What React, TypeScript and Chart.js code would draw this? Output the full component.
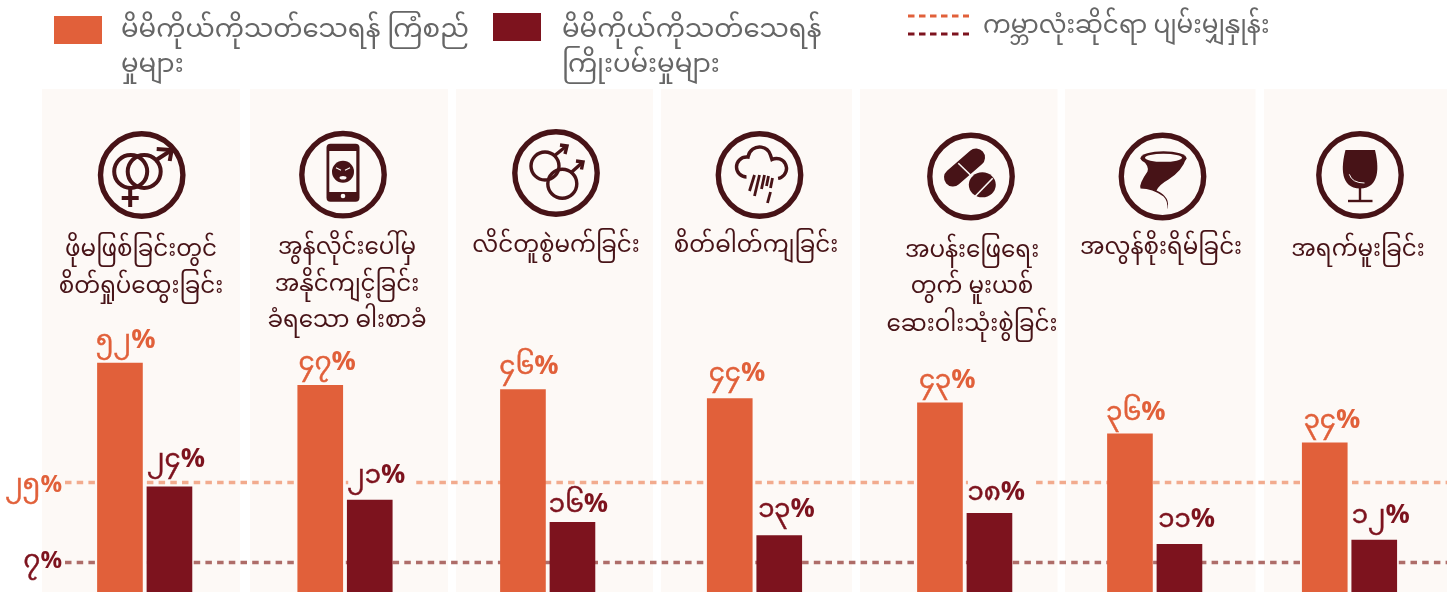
import React, { useEffect, useRef } from "react";
import { Chart, registerables, CategoryScale } from "chart.js";

// ---- data ----
const categories = [
  ["ဖိုမဖြစ်ခြင်းတွင်", "စိတ်ရှုပ်ထွေးခြင်း"],
  ["အွန်လိုင်းပေါ်မှ", "အနိုင်ကျင့်ခြင်း", "ခံရသော ဓါးစာခံ"],
  ["လိင်တူစွဲမက်ခြင်း"],
  ["စိတ်ဓါတ်ကျခြင်း"],
  ["အပန်းဖြေရေး", "တွက် မူးယစ်", "ဆေးဝါးသုံးစွဲခြင်း"],
  ["အလွန်စိုးရိမ်ခြင်း"],
  ["အရက်မူးခြင်း"],
];
const ideationValues = [52, 47, 46, 44, 43, 36, 34];
const attemptValues = [24, 21, 16, 13, 18, 11, 12];
const ideationAverage = 25;
const attemptAverage = 7;
const ideationLegend = ["မိမိကိုယ်ကိုသတ်သေရန် ကြံစည်", "မှုများ"];
const attemptLegend = ["မိမိကိုယ်ကိုသတ်သေရန်", "ကြိုးပမ်းမှုများ"];
const averageLegend = "ကမ္ဘာလုံးဆိုင်ရာ ပျမ်းမျှနှုန်း";

// ---- layout and style ----
const W = 1447;
const H = 593;
const ORANGE = "#E1603A";
const DARK = "#7D131E";
const ICON = "#471317";
const PANEL = "#FDF9F6";
const LEGEND_TEXT = "#666666";
const ORANGE_LINE = "#F2AB8E";
const DARK_LINE = "#AE6D69";
const MY_FONT = '"Noto Sans Myanmar","Noto Serif Myanmar","Padauk","Myanmar Text","Noto Sans",sans-serif';
const PCT_FONT = '"Open Sans",sans-serif';
const panelEdges = [[42, 240], [250, 448], [456, 653], [661, 852], [860, 1057.5], [1065, 1255.5], [1264, 1447]];
const panelCenters = [144.7, 345, 547.7, 754.5, 964.7, 1154.7, 1349.5];
const iconCenters = [[141.7, 175], [343, 174.7], [556, 173], [759.5, 175], [971, 176.5], [1162.5, 176.5], [1360, 175]];
const titleCenters = [141, 347, 556, 756, 972, 1161, 1358];
const titleBaselines = [[256, 293], [254, 291, 327], [252], [252], [257, 293, 331], [254], [256]];
const ideationLift = [15, 15, 16, 18, 15, 14, 15];
const attemptLift = [20, 17, 10, 19, 13, 17, 17];

const toBurmese = (v: number) => String(v).replace(/\d/g, (d) => "၀၁၂၃၄၅၆၇၈၉"[Number(d)]);

class PanelScale extends (CategoryScale as any) {
  static id = "panel";
  static defaults = (CategoryScale as any).defaults;
  getPixelForValue(value: any, index?: number) {
    const i = typeof value === "number" ? value : index ?? 0;
    return panelCenters[i];
  }
}
Chart.register(...registerables, PanelScale as any);

function line(ctx: any, pts: number[][]) {
  ctx.beginPath();
  pts.forEach(([x, y], i) => (i ? ctx.lineTo(x, y) : ctx.moveTo(x, y)));
  ctx.stroke();
}
function ring(ctx: any, x: number, y: number, r: number) {
  ctx.beginPath();
  ctx.arc(x, y, r, 0, Math.PI * 2);
  ctx.stroke();
}
function disc(ctx: any, x: number, y: number, rx: number, ry = rx) {
  ctx.beginPath();
  ctx.ellipse(x, y, rx, ry, 0, 0, Math.PI * 2);
  ctx.fill();
}

const iconPainters: ((c: any) => void)[] = [
  (c) => {
    c.lineWidth = 4;
    ring(c, -11, -3.5, 16.5);
    ring(c, 2.5, -3.5, 16.5);
    line(c, [[-11.5, 13], [-11.5, 32]]);
    line(c, [[-20, 23], [-3, 23]]);
    line(c, [[13, -14], [30, -25]]);
    line(c, [[15, -26], [30, -25], [28, -14]]);
  },
  (c) => {
    c.beginPath();
    c.roundRect(-16.5, -31, 33, 58, 4);
    c.fill();
    c.fillStyle = PANEL;
    c.fillRect(-13.7, -23.7, 27, 41);
    disc(c, 0, 21.3, 2.3);
    c.fillStyle = ICON;
    disc(c, 0, -3, 11);
    c.strokeStyle = PANEL;
    c.fillStyle = PANEL;
    c.lineWidth = 1.2;
    line(c, [[-7, -7], [-2, -4.5]]);
    line(c, [[7, -7], [2, -4.5]]);
    disc(c, 0, 3, 3.5, 1.8);
  },
  (c) => {
    c.lineWidth = 3.4;
    ring(c, -11, -7, 14);
    ring(c, 6.3, 10.7, 14.5);
    line(c, [[-1, -17.7], [10.5, -27]]);
    line(c, [[4, -28], [11, -27], [9, -19]]);
    line(c, [[15.7, -1], [27, -11]]);
    line(c, [[20, -12], [27, -11], [25.5, -3.5]]);
  },
  (c) => {
    c.lineWidth = 3.4;
    c.beginPath();
    c.arc(-13, -8, 10, Math.PI * 0.5, Math.PI * 1.55);
    c.arc(0, -16.5, 11.5, Math.PI * 1.05, Math.PI * 1.9);
    c.arc(17, -6.5, 10, Math.PI * 1.35, Math.PI * 0.45);
    c.stroke();
    c.lineWidth = 2.8;
    line(c, [[-5, 0], [-10, 16]]);
    line(c, [[0, 0], [-5, 21]]);
    line(c, [[5, 0], [2, 14]]);
    line(c, [[9, 1], [7, 11]]);
    line(c, [[13, 3], [11, 13]]);
    line(c, [[11, 17], [8, 28]]);
  },
  (c) => {
    c.lineWidth = 18;
    c.lineCap = "round";
    line(c, [[-18, 1], [5, -19]]);
    disc(c, 11.3, 8.3, 13.5, 12.5);
    c.lineCap = "butt";
    c.strokeStyle = PANEL;
    c.lineWidth = 1.6;
    line(c, [[-12.7, -13.3], [1, 0]]);
    line(c, [[4, 20], [21.7, 1.7]]);
  },
  (c) => {
    c.beginPath();
    c.moveTo(-21, -18);
    c.quadraticCurveTo(-13, -10, -15, -5);
    c.quadraticCurveTo(-24, 8, -22, 12);
    c.quadraticCurveTo(-10, 12, 1, 20);
    c.quadraticCurveTo(6, 25, 4.5, 33);
    c.quadraticCurveTo(9, 21, -6, 14);
    c.quadraticCurveTo(-3, 8, 6, 3);
    c.quadraticCurveTo(20, -6, 23.5, -18);
    c.closePath();
    c.fill();
    disc(c, 1, -18.3, 23, 7);
    c.fillStyle = PANEL;
    disc(c, 1, -18.7, 18.5, 4);
  },
  (c) => {
    c.beginPath();
    c.moveTo(-14.5, -25);
    c.lineTo(15, -25);
    c.bezierCurveTo(19, -8, 20, 13, 0, 13.5);
    c.bezierCurveTo(-20, 13, -19, -8, -14.5, -25);
    c.closePath();
    c.fill();
    c.lineWidth = 2.4;
    line(c, [[0, 13], [0, 26]]);
    line(c, [[-12, 26], [12.5, 26]]);
    c.strokeStyle = PANEL;
    c.lineWidth = 1;
    c.beginPath();
    c.moveTo(-10.7, -0.7);
    c.quadraticCurveTo(-8, 8, 4.5, 8);
    c.stroke();
  },
];

const backdropPlugin = {
  id: "backdrop",
  beforeDatasetsDraw(chart: any) {
    const { ctx, scales } = chart;
    ctx.save();
    ctx.fillStyle = PANEL;
    panelEdges.forEach(([a, b]) => ctx.fillRect(a, 89, b - a, H - 89));
    ctx.lineWidth = 3.4;
    ctx.setLineDash([6.5, 5.2]);
    [[ideationAverage, ORANGE_LINE], [attemptAverage, DARK_LINE]].forEach(([v, col]: any) => {
      ctx.strokeStyle = col;
      const y = Math.floor(scales.y.getPixelForValue(v)) + 0.5;
      ctx.beginPath();
      ctx.moveTo(65, y);
      ctx.lineTo(W, y);
      ctx.stroke();
    });
    ctx.restore();
  },
};

function percentLabel(ctx: any, v: number, right: number, base: number, col: string, pctSize = 27) {
  ctx.fillStyle = col;
  ctx.strokeStyle = col;
  ctx.textAlign = "right";
  ctx.textBaseline = "alphabetic";
  ctx.font = `bold ${pctSize}px ${PCT_FONT}`;
  ctx.fillText("%", right, base);
  const w = ctx.measureText("%").width;
  ctx.font = `26px ${MY_FONT}`;
  ctx.lineWidth = 0.5;
  ctx.fillText(toBurmese(v), right - w, base);
  ctx.strokeText(toBurmese(v), right - w, base);
}

const overlayPlugin = {
  id: "overlay",
  afterDatasetsDraw(chart: any) {
    const { ctx, scales } = chart;
    ctx.save();
    // value labels
    const avgY = scales.y.getPixelForValue(ideationAverage);
    [[ideationValues, ideationLift, ORANGE], [attemptValues, attemptLift, DARK]].forEach(([vals, lift, col]: any, ds) => {
      const meta = chart.getDatasetMeta(ds);
      vals.forEach((v: number, i: number) => {
        const bar = meta.data[i];
        const left = bar.x - bar.width / 2;
        const base = bar.y - lift[i];
        if (base - 25 < avgY && avgY < base + 8 && ds === 1) {
          ctx.fillStyle = PANEL;
          ctx.fillRect(left + 1, avgY - 3, 68, 7);
        }
        percentLabel(ctx, v, left + 58, base, col);
      });
    });
    // average tick labels
    percentLabel(ctx, ideationAverage, 62, 492, ORANGE, 24);
    percentLabel(ctx, attemptAverage, 62, 568, DARK, 24);
    // titles
    ctx.textAlign = "center";
    ctx.textBaseline = "alphabetic";
    ctx.fillStyle = ICON;
    ctx.font = `23px ${MY_FONT}`;
    categories.forEach((lines, i) => {
      lines.forEach((t, j) => ctx.fillText(t, titleCenters[i], titleBaselines[i][j]));
    });
    // icons
    iconCenters.forEach(([x, y], i) => {
      ctx.save();
      ctx.translate(x, y);
      ctx.strokeStyle = ICON;
      ctx.fillStyle = ICON;
      ctx.lineWidth = 5.4;
      ring(ctx, 0, 0, 41.2);
      iconPainters[i](ctx);
      ctx.restore();
    });
    // legend
    ctx.fillStyle = ORANGE;
    ctx.fillRect(54, 16, 48, 28);
    ctx.fillStyle = DARK;
    ctx.fillRect(493, 13, 48, 28);
    ctx.fillStyle = LEGEND_TEXT;
    ctx.textAlign = "left";
    ctx.font = `26px ${MY_FONT}`;
    ideationLegend.forEach((t, j) => ctx.fillText(t, 121, 37 + j * 35));
    attemptLegend.forEach((t, j) => ctx.fillText(t, 562, 37 + j * 35));
    ctx.font = `24.7px ${MY_FONT}`;
    ctx.fillText(averageLegend, 983, 33);
    ctx.lineWidth = 3;
    ctx.setLineDash([6.5, 4.5]);
    [[16, ORANGE], [34, DARK]].forEach(([y, col]: any) => {
      ctx.strokeStyle = col;
      line(ctx, [[908, y], [969, y]]);
    });
    ctx.restore();
  },
};

export default function App() {
  const ref = useRef<HTMLCanvasElement>(null);
  useEffect(() => {
    const chart = new Chart(ref.current!, {
      type: "bar",
      data: {
        labels: categories.map((c) => c.join(" ")),
        datasets: [
          { label: ideationLegend.join(""), data: ideationValues, backgroundColor: ORANGE },
          { label: attemptLegend.join(" "), data: attemptValues, backgroundColor: DARK },
        ],
      },
      options: {
        animation: false,
        responsive: false,
        devicePixelRatio: 1,
        layout: { padding: 0 },
        datasets: { bar: { barThickness: 49.5, maxBarThickness: 45 } },
        plugins: { legend: { display: false }, tooltip: { enabled: false }, title: { display: false } },
        scales: {
          x: { type: "panel", display: false, offset: true },
          y: { display: false, min: 0, max: H / 4.42, beginAtZero: true },
        },
      } as any,
      plugins: [backdropPlugin, overlayPlugin],
    });
    return () => chart.destroy();
  }, []);
  return (
    <div style={{ position: "fixed", left: 0, top: 0, width: W, height: 592, overflow: "hidden", background: "#fff" }}>
      <canvas ref={ref} width={W} height={H} style={{ display: "block", width: W, height: H }} />
    </div>
  );
}
